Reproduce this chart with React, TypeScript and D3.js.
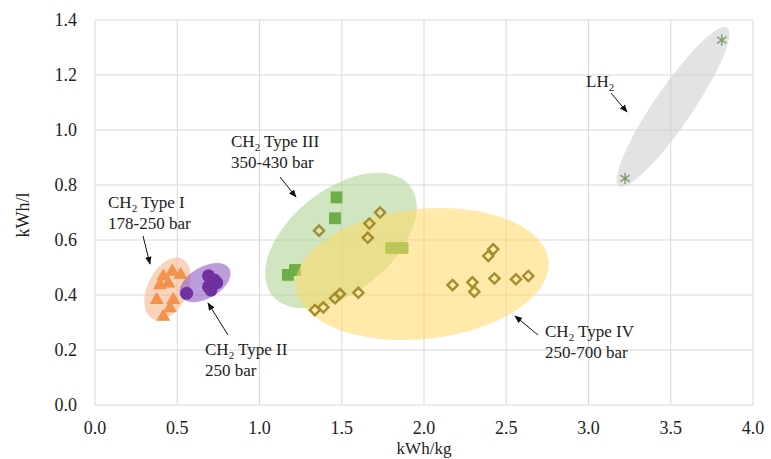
import React from "react";
import * as d3 from "d3";

const W = 771, H = 459;
const xTicks = [0, 0.5, 1, 1.5, 2, 2.5, 3, 3.5, 4];
const yTicks = [0, 0.2, 0.4, 0.6, 0.8, 1.0, 1.2, 1.4];

const typeI: [number, number][] = [
  [0.47, 0.485], [0.415, 0.467], [0.52, 0.473], [0.395, 0.436], [0.446, 0.442],
  [0.375, 0.382], [0.476, 0.382], [0.456, 0.352], [0.415, 0.321],
];
const typeII: [number, number][] = [
  [0.69, 0.47], [0.725, 0.455], [0.74, 0.445], [0.69, 0.43], [0.705, 0.418], [0.557, 0.406],
];
const typeIII: [number, number][] = [
  [1.468, 0.755], [1.459, 0.679], [1.216, 0.491], [1.173, 0.473], [1.80, 0.571], [1.87, 0.571],
];
const typeIV: [number, number][] = [
  [1.362, 0.634], [1.733, 0.70], [1.668, 0.66], [1.658, 0.608], [1.601, 0.408],
  [1.489, 0.404], [1.459, 0.388], [1.388, 0.355], [1.337, 0.345],
  [2.421, 0.566], [2.391, 0.542], [2.174, 0.436], [2.294, 0.446], [2.306, 0.412],
  [2.428, 0.46], [2.559, 0.457], [2.634, 0.469],
];
const lh2: [number, number][] = [[3.81, 1.327], [3.222, 0.824]];

// ellipse centres in data units
const ellipseCentres = {
  orange: [0.441, 0.422],
  purple: [0.669, 0.445],
  green: [1.495, 0.598],
  yellow: [1.988, 0.476],
  grey: [3.514, 1.084],
};

const x = d3.scaleLinear().domain([0, 4]).range([95, 753]);
const y = d3.scaleLinear().domain([0, 1.4]).range([405, 20]);

const FONT = "Liberation Serif";

const starType = {
  draw(ctx: any, size: number) {
    const r = Math.sqrt(size) / 2;
    [90, 35, -35].forEach((deg) => {
      const a = (deg * Math.PI) / 180;
      ctx.moveTo(r * Math.cos(a), -r * Math.sin(a));
      ctx.lineTo(-r * Math.cos(a), r * Math.sin(a));
    });
  },
};

function Ell({ c, rx, ry, rot, fill, op }: any) {
  return (
    <ellipse
      cx={0}
      cy={0}
      rx={rx}
      ry={ry}
      transform={`translate(${x(c[0])},${y(c[1])}) rotate(${rot})`}
      fill={fill}
      fillOpacity={op}
    />
  );
}

function Label({ px, py, name, sub, line2 }: any) {
  return (
    <text x={px} y={py} fontFamily={FONT} fontSize={17} fill="#222">
      <tspan>{name}</tspan>
      <tspan dy={4} fontSize={11}>2</tspan>
      <tspan dy={-4}>{sub}</tspan>
      {line2 && (
        <tspan x={px} dy={21}>
          {line2}
        </tspan>
      )}
    </text>
  );
}

function Arrow({ x1, y1, x2, y2 }: any) {
  return <line x1={x1} y1={y1} x2={x2} y2={y2} stroke="#111" strokeWidth={1} markerEnd="url(#ah)" />;
}

export default function App() {
  const tri = d3.symbol(d3.symbolTriangle, 85)()!;
  const sq = d3.symbol(d3.symbolSquare, 140)()!;
  const dia = d3.symbol(d3.symbolSquare, 52)()!;
  const star = d3.symbol(starType as any, 130)()!;
  return (
    <svg width={W} height={H} style={{ position: "absolute", left: 0, top: 0, background: "#fff" }}>
      <defs>
        <marker id="ah" viewBox="0 0 10 10" refX={9} refY={5} markerWidth={8} markerHeight={8} orient="auto">
          <path d="M0,1 L10,5 L0,9 z" fill="#111" />
        </marker>
      </defs>
      <rect width={W} height={H} fill="#fff" />
      {xTicks.map((t) => (
        <line key={"gx" + t} x1={x(t)} x2={x(t)} y1={y(1.4)} y2={y(0)} stroke="#d9d9d9" strokeWidth={1} />
      ))}
      {yTicks.map((t) => (
        <line key={"gy" + t} x1={x(0)} x2={x(4)} y1={y(t)} y2={y(t)} stroke="#d9d9d9" strokeWidth={1} />
      ))}
      {xTicks.map((t) => (
        <text key={"tx" + t} x={x(t)} y={434} textAnchor="middle" fontFamily={FONT} fontSize={18} fill="#222">
          {t.toFixed(1)}
        </text>
      ))}
      {yTicks.map((t) => (
        <text key={"ty" + t} x={77} y={y(t) + 6} textAnchor="end" fontFamily={FONT} fontSize={18} fill="#222">
          {t.toFixed(1)}
        </text>
      ))}
      <text x={424} y={454} textAnchor="middle" fontFamily={FONT} fontSize={17} fill="#222">
        kWh/kg
      </text>
      <text transform="translate(29,215) rotate(-90)" textAnchor="middle" fontFamily={FONT} fontSize={18} fill="#222">
        kWh/l
      </text>

      {/* ellipses & markers */}
      <Ell c={ellipseCentres.grey} rx={96} ry={19} rot={-55.6} fill="#d0d0d0" op={0.6} />
      <Ell c={ellipseCentres.orange} rx={20} ry={33.5} rot={26} fill="#f4b183" op={0.55} />
      <Ell c={ellipseCentres.purple} rx={28} ry={15.8} rot={-30} fill="#8e5cc4" op={0.6} />
      <Ell c={ellipseCentres.green} rx={88} ry={51} rot={-38.5} fill="#a9d18e" op={0.55} />
      {typeIII.map((d, i) => (
        <path key={"s" + i} d={sq} transform={`translate(${x(d[0])},${y(d[1])})`} fill="#6eae48" />
      ))}
      <Ell c={ellipseCentres.yellow} rx={127} ry={65} rot={-6} fill="#ffd966" op={0.55} />
      {typeI.map((d, i) => (
        <path key={"t" + i} d={tri} transform={`translate(${x(d[0])},${y(d[1])})`} fill="#f4914a" />
      ))}
      {typeII.map((d, i) => (
        <circle key={"c" + i} cx={x(d[0])} cy={y(d[1])} r={6.5} fill="#7030a0" />
      ))}
      {typeIV.map((d, i) => (
        <path
          key={"d" + i}
          d={dia}
          transform={`translate(${x(d[0])},${y(d[1])}) rotate(45)`}
          fill="none"
          stroke="#a58c2c"
          strokeWidth={2.4}
        />
      ))}
      {lh2.map((d, i) => (
        <path
          key={"l" + i}
          d={star}
          transform={`translate(${x(d[0])},${y(d[1])})`}
          fill="none"
          stroke="#7f9e6c"
          strokeWidth={1.4}
        />
      ))}

      {/* labels */}
      <Label px={108} py={208} name="CH" sub=" Type I" line2="178-250 bar" />
      <Arrow x1={143} y1={236} x2={150} y2={264} />
      <Label px={205} py={355} name="CH" sub=" Type II" line2="250 bar" />
      <Arrow x1={228} y1={335} x2={208} y2={303} />
      <Label px={231} py={147} name="CH" sub=" Type III" line2="350-430 bar" />
      <Arrow x1={280} y1={177} x2={296} y2={197} />
      <Label px={545} py={337} name="CH" sub=" Type IV" line2="250-700 bar" />
      <Arrow x1={538} y1={335} x2={515} y2={316} />
      <Label px={586} py={87} name="LH" sub="" />
      <Arrow x1={611} y1={93} x2={627} y2={112} />
    </svg>
  );
}
